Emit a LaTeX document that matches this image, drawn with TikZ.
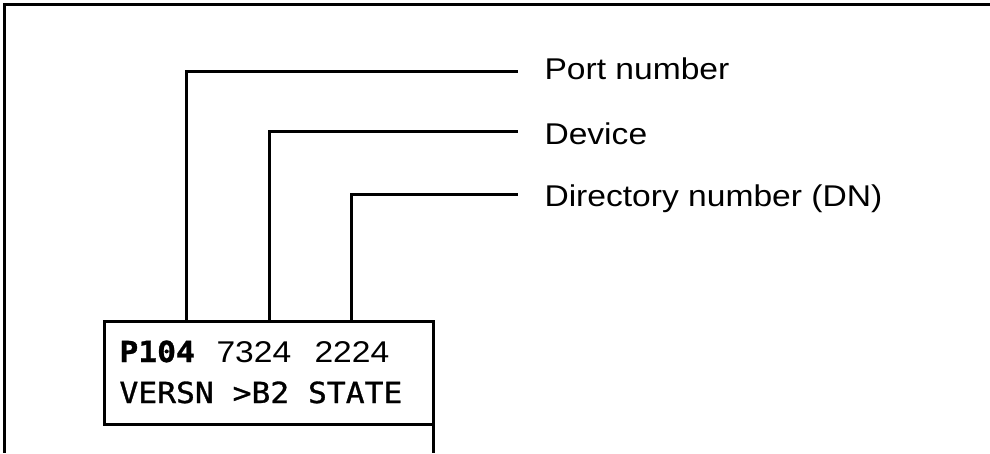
\documentclass[tikz,border=0pt]{standalone}
\usepackage{fontspec}
\usepackage{tikz}
\usetikzlibrary{positioning}
\newfontfamily\lblfont[FakeStretch=1.12]{Liberation Sans}
\newfontfamily\lcdfont[FakeStretch=1.08,FakeBold=1]{DejaVu Sans Mono}
\tikzset{lbl/.style = {inner sep = 0, font = \lblfont\fontsize{30}{36}\selectfont}}
\tikzset{lcdtxt/.style = {inner sep = 0, font = \lcdfont\fontsize{29}{35}\selectfont}}
\tikzset{lcdnum/.style = {inner sep = 0, font = \lblfont\fontsize{30}{36}\selectfont}}
\tikzset{lcdbox/.style = {draw, rectangle, inner sep = 0, outer sep = 0,
                          minimum width = 329, minimum height = 103}}
\begin{document}
\begin{tikzpicture}[x=1pt,y=1pt,line width=3pt]
        \useasboundingbox (0,0) rectangle (990,453);
        \draw (3,448) -- (990,448);
        \draw (4,448) -- (4,0);
        \node[lcdbox] (lcd) at (268.5,80.5) {};
        \draw (lcd.south east) -- (433,0);
        \node[lcdtxt, anchor=base west, font=\lcdfont\bfseries\fontsize{29}{35}\selectfont] (portval) at (118,91) {P104};
        \node[lcdnum, anchor=base west] (devval) at (215,91) {7324};
        \node[lcdnum, anchor=base west] (dnval) at (313,91) {2224};
        \node[lcdtxt, anchor=base west] (info) at (118,50) {VERSN >B2 STATE};
        \coordinate (portfoot) at (186,132);
        \coordinate (devfoot) at (269,132);
        \coordinate (dnfoot) at (351,132);
        \coordinate (portend) at (518,381);
        \coordinate (devend) at (518,321);
        \coordinate (dnend) at (518,258);
        \node[lbl, anchor=base west] (portlbl) at (543,373) {Port number};
        \node[lbl, anchor=base west] (devlbl) at (543,308) {Device};
        \node[lbl, anchor=base west] (dnlbl) at (543,246) {Directory number (DN)};
        \draw (portfoot) |- (portend);
        \draw (devfoot) |- (devend);
        \draw (dnfoot) |- (dnend);
    \end{tikzpicture}
\end{document}
